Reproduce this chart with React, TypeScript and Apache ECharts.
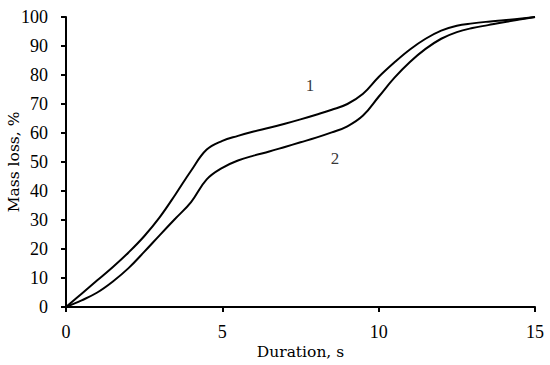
import React, { useEffect, useRef } from "react";
import * as echarts from "echarts";

const durations = [0, 0.5, 1, 1.5, 2, 2.5, 3, 3.5, 4, 4.5, 5, 5.5, 6, 6.5, 7, 7.5, 8, 8.5, 9, 9.5, 10, 10.5, 11, 11.5, 12, 12.5, 13, 13.5, 14, 14.5, 15];
const curve1 = [0, 4.6, 9.2, 13.8, 18.8, 24.4, 31, 38.8, 47, 54.3, 57.3, 59, 60.5, 61.8, 63.2, 64.7, 66.3, 68, 70, 73.5, 79.3, 84.3, 88.8, 92.5, 95.3, 97, 97.8, 98.4, 98.9, 99.4, 100];
const curve2 = [0, 2.3, 5, 8.8, 13.4, 19, 24.8, 30.5, 36.2, 44, 48, 50.5, 52.2, 53.6, 55.2, 56.8, 58.4, 60.2, 62.3, 66, 72.5, 79, 84.5, 89, 92.5, 94.8, 96.2, 97.2, 98.2, 99.1, 100];
const curveLabels = [
  { name: "1", t: 7.8, v: 76.3 },
  { name: "2", t: 8.6, v: 51.3 },
];

const tickFont = "'Liberation Serif', serif";
const nameFont = "'DejaVu Serif', serif";

export default function App() {
  const ref = useRef<HTMLDivElement>(null);
  useEffect(() => {
    if (!ref.current) return;
    document.body.style.margin = "0";
    const chart = echarts.init(ref.current, undefined, { renderer: "svg" });
    const lineStyle = { color: "#000", width: 2 };
    chart.setOption({
      animation: false,
      grid: { left: 66, right: 15, top: 17, bottom: 58, containLabel: false, outerBoundsMode: "none" },
      xAxis: {
        type: "value",
        min: 0,
        max: 15,
        interval: 5,
        name: "Duration, s",
        nameLocation: "middle",
        nameGap: 37,
        nameMoveOverlap: false,
        nameTextStyle: { fontFamily: nameFont, fontSize: 15.5, color: "#000" },
        axisLine: { show: true, lineStyle: { color: "#000", width: 2 } },
        axisTick: { show: true, length: 5, lineStyle: { color: "#000", width: 2 } },
        axisLabel: { fontFamily: tickFont, fontSize: 18, color: "#000", margin: 16 },
        splitLine: { show: false },
      },
      yAxis: {
        type: "value",
        min: 0,
        max: 100,
        interval: 10,
        name: "Mass loss, %",
        nameLocation: "middle",
        nameGap: 44,
        nameMoveOverlap: false,
        nameTextStyle: { fontFamily: nameFont, fontSize: 15.5, color: "#000" },
        axisLine: { show: true, lineStyle: { color: "#000", width: 2 } },
        axisTick: { show: true, length: 5, lineStyle: { color: "#000", width: 2 } },
        axisLabel: { fontFamily: tickFont, fontSize: 18, color: "#000", margin: 18 },
        splitLine: { show: false },
      },
      series: [
        {
          type: "line",
          data: durations.map((t, i) => [t, curve1[i]]),
          smooth: 0.4,
          showSymbol: false,
          lineStyle,
        },
        {
          type: "line",
          data: durations.map((t, i) => [t, curve2[i]]),
          smooth: 0.4,
          showSymbol: false,
          lineStyle,
        },
        {
          type: "scatter",
          symbolSize: 0,
          data: curveLabels.map((l) => ({ value: [l.t, l.v], name: l.name })),
          label: {
            show: true,
            position: "inside",
            formatter: (p: any) => p.name,
            fontFamily: tickFont,
            fontSize: 17,
            color: "#000",
          },
        },
      ],
    });
    return () => chart.dispose();
  }, []);
  return <div ref={ref} style={{ width: 550, height: 365 }} />;
}
